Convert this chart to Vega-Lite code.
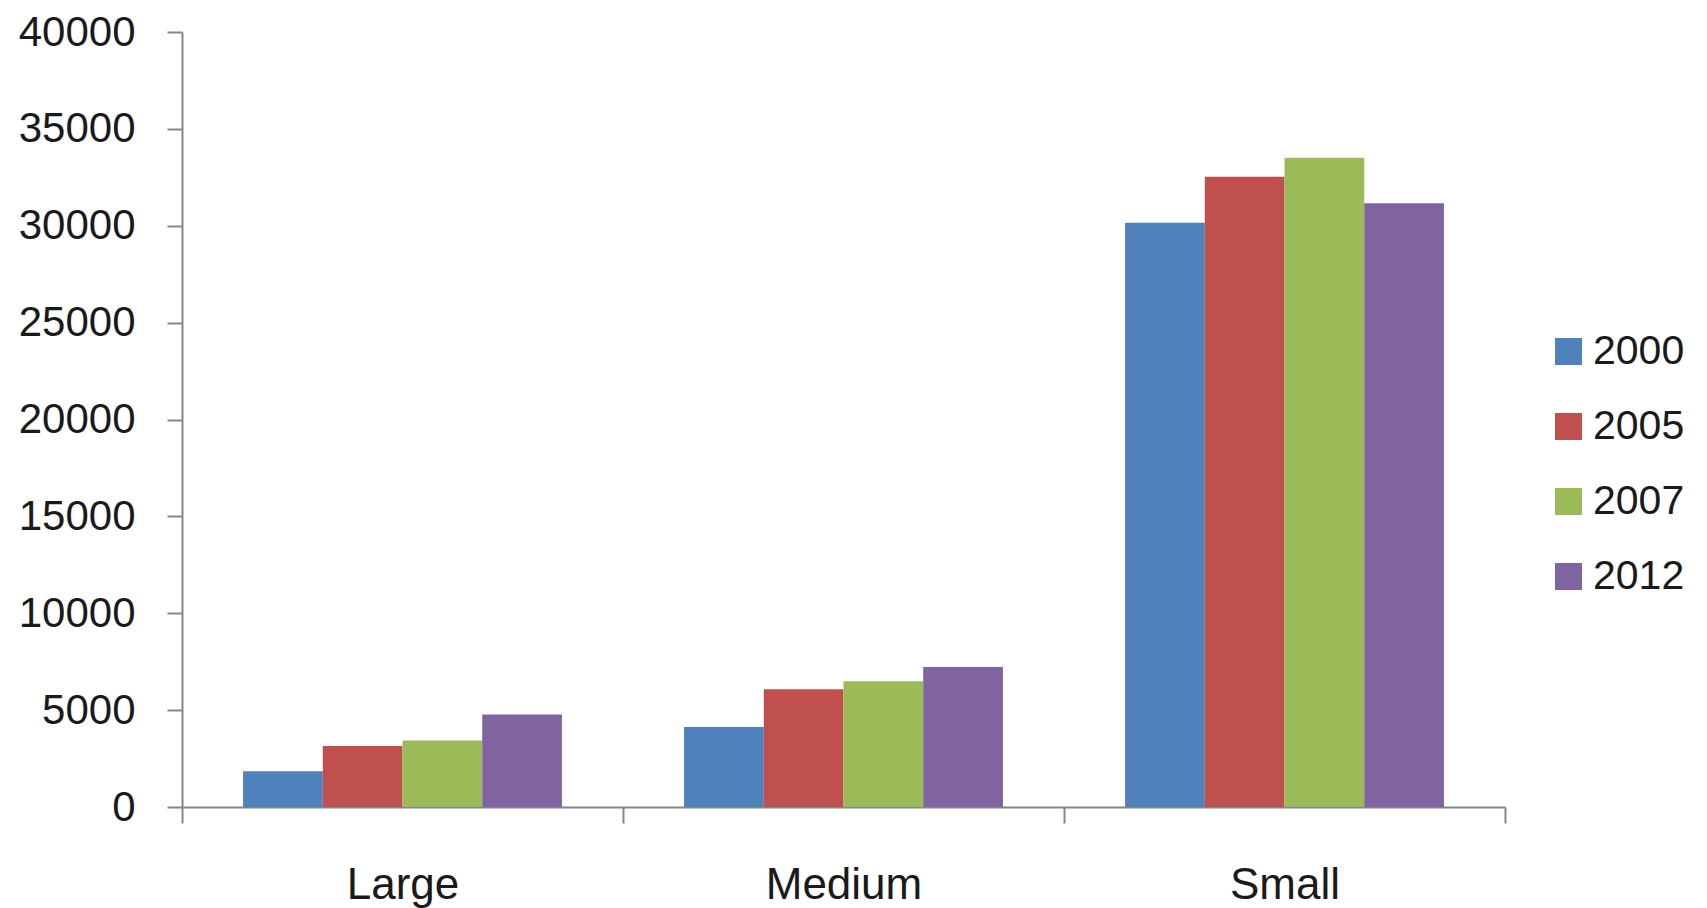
{
  "$schema": "https://vega.github.io/schema/vega-lite/v6.json",
  "autosize": {"type": "none"},
  "padding": {"left": 182, "top": 32, "right": 202, "bottom": 101},
  "width": 1323,
  "height": 775,
  "background": "white",
  "config": {
    "view": {"stroke": null},
    "font": "Liberation Sans"
  },
  "data": {
    "values": [
      {"size": "Large", "year": "2000", "value": 1850},
      {"size": "Large", "year": "2005", "value": 3150},
      {"size": "Large", "year": "2007", "value": 3430},
      {"size": "Large", "year": "2012", "value": 4780},
      {"size": "Medium", "year": "2000", "value": 4130},
      {"size": "Medium", "year": "2005", "value": 6075},
      {"size": "Medium", "year": "2007", "value": 6490},
      {"size": "Medium", "year": "2012", "value": 7225},
      {"size": "Small", "year": "2000", "value": 30160},
      {"size": "Small", "year": "2005", "value": 32530},
      {"size": "Small", "year": "2007", "value": 33510},
      {"size": "Small", "year": "2012", "value": 31160}
    ]
  },
  "mark": {"type": "bar"},
  "encoding": {
    "x": {
      "field": "size",
      "type": "nominal",
      "scale": {"paddingInner": 0, "paddingOuter": 0},
      "axis": {
        "title": null,
        "labelAngle": 0,
        "labelFontSize": 44,
        "labelColor": "#1a1a1a",
        "labelBaseline": "alphabetic",
        "labelPadding": 75,
        "tickBand": "extent",
        "tickSize": 16,
        "tickColor": "#868686",
        "tickWidth": 2,
        "domainColor": "#868686",
        "domainWidth": 2,
        "grid": false
      }
    },
    "xOffset": {"field": "year", "type": "nominal", "scale": {"paddingInner": 0, "paddingOuter": 0.766}},
    "y": {
      "field": "value",
      "type": "quantitative",
      "scale": {"domain": [0, 40000], "nice": false},
      "axis": {
        "title": null,
        "values": [0, 5000, 10000, 15000, 20000, 25000, 30000, 35000, 40000],
        "format": "d",
        "labelFontSize": 42,
        "labelColor": "#1a1a1a",
        "labelPadding": 32,
        "tickSize": 15,
        "tickColor": "#868686",
        "tickWidth": 2,
        "domainColor": "#868686",
        "domainWidth": 2,
        "grid": false
      }
    },
    "color": {
      "field": "year",
      "type": "nominal",
      "scale": {
        "domain": ["2000", "2005", "2007", "2012"],
        "range": ["#4F81BD", "#C0504D", "#9BBB59", "#8064A2"]
      },
      "legend": {
        "title": null,
        "orient": "none",
        "legendX": 1366,
        "legendY": 299,
        "symbolType": "square",
        "symbolSize": 729,
        "symbolStrokeWidth": 0,
        "labelFontSize": 41,
        "labelColor": "#1a1a1a",
        "labelOffset": 4,
        "rowPadding": 33
      }
    }
  }
}
